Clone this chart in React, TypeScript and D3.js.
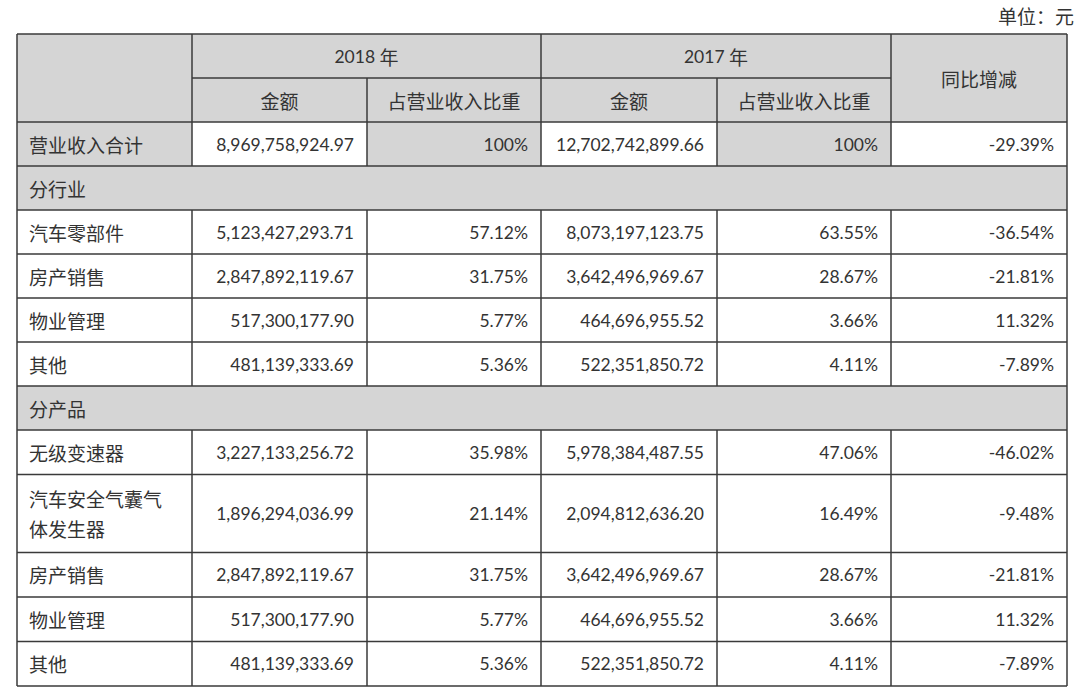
import React from "react";
import * as d3 from "d3";

// ---- data ----
const unitLabel = "单位：元";
const yearHeaders = ["2018 年", "2017 年"];
const subHeaders = ["金额", "占营业收入比重", "金额", "占营业收入比重"];
const changeHeader = "同比增减";

const totalLabel = "营业收入合计";
const totalValues = ["8,969,758,924.97", "100%", "12,702,742,899.66", "100%", "-29.39%"];

const sectionIndustry = "分行业";
const industryLabels = [["汽车零部件"], ["房产销售"], ["物业管理"], ["其他"]];
const industryAmount2018 = ["5,123,427,293.71", "2,847,892,119.67", "517,300,177.90", "481,139,333.69"];
const industryShare2018 = ["57.12%", "31.75%", "5.77%", "5.36%"];
const industryAmount2017 = ["8,073,197,123.75", "3,642,496,969.67", "464,696,955.52", "522,351,850.72"];
const industryShare2017 = ["63.55%", "28.67%", "3.66%", "4.11%"];
const industryChange = ["-36.54%", "-21.81%", "11.32%", "-7.89%"];

const sectionProduct = "分产品";
const productLabels = [["无级变速器"], ["汽车安全气囊气", "体发生器"], ["房产销售"], ["物业管理"], ["其他"]];
const productAmount2018 = ["3,227,133,256.72", "1,896,294,036.99", "2,847,892,119.67", "517,300,177.90", "481,139,333.69"];
const productShare2018 = ["35.98%", "21.14%", "31.75%", "5.77%", "5.36%"];
const productAmount2017 = ["5,978,384,487.55", "2,094,812,636.20", "3,642,496,969.67", "464,696,955.52", "522,351,850.72"];
const productShare2017 = ["47.06%", "16.49%", "28.67%", "3.66%", "4.11%"];
const productChange = ["-46.02%", "-9.48%", "-21.81%", "11.32%", "-7.89%"];

// ---- layout ----
const W = 1080;
const H = 692;
const colEdges = [17, 192, 367, 541, 717, 891, 1067];
const GRAY = "#d5d5d5";
const LINE = "#3a3a3a";
const TEXT = "#333333";
const CJK = "'Noto Sans CJK SC', 'Noto Sans', sans-serif";
const NUM = "Lato, 'Noto Sans CJK SC', sans-serif";
const FS_CJK = 19;
const FS_NUM = 17.5;

type Row = {
  kind: "total" | "section" | "data";
  label: string[];
  values?: string[];
  height: number;
};

const rows: Row[] = [];
rows.push({ kind: "total", label: [totalLabel], values: totalValues, height: 44 });
rows.push({ kind: "section", label: [sectionIndustry], height: 44 });
industryLabels.forEach((l, i) =>
  rows.push({
    kind: "data",
    label: l,
    values: [industryAmount2018[i], industryShare2018[i], industryAmount2017[i], industryShare2017[i], industryChange[i]],
    height: 44,
  })
);
rows.push({ kind: "section", label: [sectionProduct], height: 44 });
productLabels.forEach((l, i) =>
  rows.push({
    kind: "data",
    label: l,
    values: [productAmount2018[i], productShare2018[i], productAmount2017[i], productShare2017[i], productChange[i]],
    height: l.length > 1 ? 78 : 44.5,
  })
);

export default function App() {
  const top = 34;
  const head1 = 44;
  const head2 = 44;
  const bodyTop = top + head1 + head2;

  const rowTops: number[] = [];
  let acc = bodyTop;
  rows.forEach((r) => {
    rowTops.push(acc);
    acc += r.height;
  });
  const bottom = acc;
  const x = d3.scaleLinear().domain([0, W]).range([0, W]);

  const padL = 12;
  const padR = 13;

  const els: React.ReactNode[] = [];

  els.push(
    <rect key="hbg" x={x(colEdges[0])} y={top} width={x(colEdges[6]) - x(colEdges[0])} height={head1 + head2} fill={GRAY} />
  );

  rows.forEach((r, ri) => {
    const y0 = rowTops[ri];
    if (r.kind === "section") {
      els.push(
        <rect key={`sbg${ri}`} x={colEdges[0]} y={y0} width={colEdges[6] - colEdges[0]} height={r.height} fill={GRAY} />
      );
    } else {
      for (let c = 0; c < 6; c++) {
        const gray = r.kind === "total" && (c === 0 || c === 2 || c === 4);
        els.push(
          <rect
            key={`bg${ri}-${c}`}
            x={colEdges[c]}
            y={y0}
            width={colEdges[c + 1] - colEdges[c]}
            height={r.height}
            fill={gray ? GRAY : "#ffffff"}
          />
        );
      }
    }
  });

  const yearCenters = [(colEdges[1] + colEdges[3]) / 2, (colEdges[3] + colEdges[5]) / 2];
  yearHeaders.forEach((t, i) => {
    const [num, unit] = t.split(" ");
    els.push(
      <text key={`yh${i}`} x={yearCenters[i]} y={top + head1 / 2} textAnchor="middle" dominantBaseline="central" fill={TEXT}>
        <tspan fontFamily={NUM} fontSize={FS_NUM}>{num + " "}</tspan>
        <tspan fontFamily={CJK} fontSize={FS_CJK}>{unit}</tspan>
      </text>
    );
  });
  subHeaders.forEach((t, i) =>
    els.push(
      <text
        key={`sh${i}`}
        x={(colEdges[i + 1] + colEdges[i + 2]) / 2}
        y={top + head1 + head2 / 2}
        textAnchor="middle"
        dominantBaseline="central"
        fontFamily={CJK}
        fontSize={FS_CJK}
        fill={TEXT}
      >
        {t}
      </text>
    )
  );
  els.push(
    <text key="ch" x={(colEdges[5] + colEdges[6]) / 2} y={top + (head1 + head2) / 2} textAnchor="middle" dominantBaseline="central" fontFamily={CJK} fontSize={FS_CJK} fill={TEXT}>
      {changeHeader}
    </text>
  );

  rows.forEach((r, ri) => {
    const y0 = rowTops[ri];
    const cy = y0 + r.height / 2;
    const lh = 30;
    r.label.forEach((l, li) => {
      const ly = cy + (li - (r.label.length - 1) / 2) * lh;
      els.push(
        <text key={`lb${ri}-${li}`} x={colEdges[0] + padL} y={ly} dominantBaseline="central" fontFamily={CJK} fontSize={FS_CJK} fill={TEXT}>
          {l}
        </text>
      );
    });
    if (r.values) {
      r.values.forEach((v, vi) => {
        els.push(
          <text
            key={`v${ri}-${vi}`}
            x={colEdges[vi + 2] - padR}
            y={cy}
            textAnchor="end"
            dominantBaseline="central"
            fontFamily={NUM}
            fontSize={FS_NUM}
            fill={TEXT}
          >
            {v}
          </text>
        );
      });
    }
  });

  const lines: React.ReactNode[] = [];
  const hl = (k: string, x1: number, x2: number, y: number) =>
    lines.push(<line key={k} x1={x1} x2={x2} y1={y} y2={y} stroke={LINE} strokeWidth={1.5} />);
  const vl = (k: string, xx: number, y1: number, y2: number) =>
    lines.push(<line key={k} x1={xx} x2={xx} y1={y1} y2={y2} stroke={LINE} strokeWidth={1.5} />);

  hl("top", colEdges[0], colEdges[6], top);
  hl("h1", colEdges[1], colEdges[5], top + head1);
  hl("h2", colEdges[0], colEdges[6], bodyTop);
  rows.forEach((r, ri) => hl(`r${ri}`, colEdges[0], colEdges[6], rowTops[ri] + r.height));

  vl("v0", colEdges[0], top, bottom);
  vl("v6", colEdges[6], top, bottom);
  vl("v1h", colEdges[1], top, bodyTop);
  vl("v3h", colEdges[3], top, bodyTop);
  vl("v5h", colEdges[5], top, bodyTop);
  vl("v2h", colEdges[2], top + head1, bodyTop);
  vl("v4h", colEdges[4], top + head1, bodyTop);
  rows.forEach((r, ri) => {
    if (r.kind === "section") return;
    for (let c = 1; c < 6; c++) vl(`rv${ri}-${c}`, colEdges[c], rowTops[ri], rowTops[ri] + r.height);
  });

  return (
    <div style={{ position: "absolute", left: 0, top: 0 }}>
      <svg width={W} height={H} style={{ display: "block", background: "#ffffff" }}>
        <rect x={0} y={0} width={W} height={H} fill="#ffffff" />
        <text x={1074} y={15} textAnchor="end" dominantBaseline="central" fontFamily={CJK} fontSize={FS_CJK} fill={TEXT}>
          {unitLabel}
        </text>
        {els}
        {lines}
      </svg>
    </div>
  );
}
